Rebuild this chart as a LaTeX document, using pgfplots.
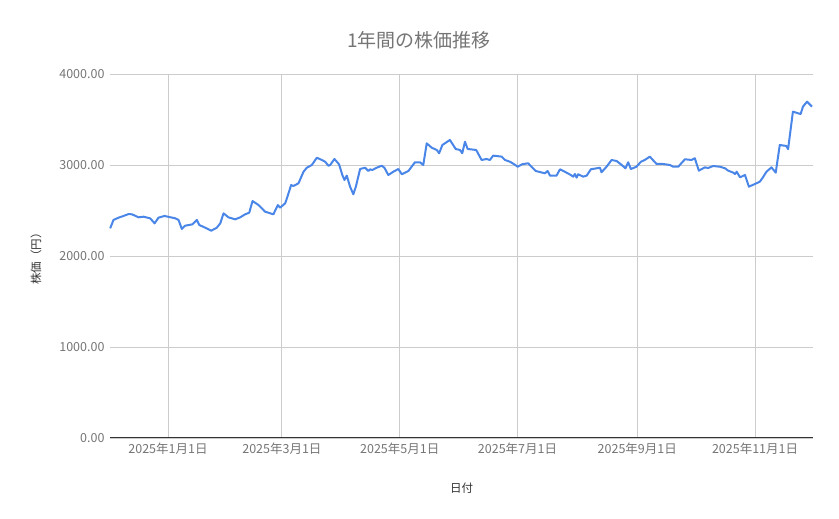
\documentclass[border=0pt]{standalone}
\usepackage{pgfplots}
\pgfplotsset{compat=1.18}
\usepackage{fontspec}
\setmainfont{Noto Sans CJK JP}
\definecolor{linebl}{HTML}{4A86E8}
\definecolor{txtgray}{HTML}{757575}
\definecolor{gridgray}{HTML}{CCCCCC}
\begin{document}
\begin{tikzpicture}[x=1pt,y=1pt]
\useasboundingbox (-110,-81) rectangle (729,438);
\begin{axis}[
  at={(0,0)}, anchor=south west,
  scale only axis, width=703pt, height=364pt,
  xmin=-30, xmax=334, ymin=0, ymax=4000,
  xtick={0,59,120,181,243,304},
  xticklabels={2025年1月1日,2025年3月1日,2025年5月1日,2025年7月1日,2025年9月1日,2025年11月1日},
  ytick={0,1000,2000,3000,4000},
  yticklabels={0.00,1000.00,2000.00,3000.00,4000.00},
  xmajorgrids, ymajorgrids,
  major grid style={gridgray, line width=0.8pt},
  axis line style={draw=none},
  major tick length=0pt,
  tick label style={font=\fontsize{12.5}{14}\selectfont, text=txtgray},
  xticklabel style={yshift=-1pt},
  yticklabel style={xshift=-2pt},
  xlabel={日付}, ylabel={株価（円）},
  label style={font=\fontsize{11.5}{13}\selectfont, text=black!80},
  xlabel style={yshift=-22pt},
  ylabel style={yshift=11pt},
  clip=false,
]
\addplot[linebl, line width=2pt, line join=round] coordinates {
(-29.9,2304)(-28.2,2396)(-25.6,2421)(-23.0,2440)(-20.4,2461)(-18.6,2458)(-15.2,2425)(-12.6,2432)(-9.2,2414)(-6.9,2359)(-4.9,2421)(-1.8,2440)(3.8,2414)(5.5,2396)(7.2,2297)(8.9,2333)(12.7,2348)(15.0,2396)(16.2,2341)(19.3,2311)(22.4,2278)(25.3,2311)(27.1,2359)(28.8,2469)(31.3,2425)(34.8,2403)(37.4,2425)(40.0,2458)(42.1,2476)(43.8,2604)(46.9,2560)(50.3,2487)(54.6,2458)(56.9,2560)(58.1,2531)(60.7,2579)(61.6,2634)(63.8,2780)(65.0,2769)(67.6,2799)(70.2,2926)(71.9,2970)(74.5,3000)(77.1,3080)(79.7,3055)(81.4,3036)(83.1,2992)(84.0,3000)(86.2,3066)(88.6,3008)(90.3,2890)(91.4,2835)(92.6,2883)(94.3,2762)(96.0,2678)(97.3,2762)(99.5,2956)(102.1,2970)(103.8,2934)(104.7,2953)(105.8,2945)(108.1,2970)(110.7,2992)(112.1,2970)(114.1,2890)(116.7,2926)(119.3,2956)(121.1,2898)(124.5,2934)(127.9,3030)(130.5,3030)(132.2,3000)(134.0,3238)(136.6,3190)(139.2,3165)(140.4,3129)(142.1,3220)(146.0,3275)(149.0,3176)(151.2,3165)(152.4,3129)(153.8,3256)(155.2,3176)(159.6,3165)(162.4,3055)(165.0,3066)(166.7,3055)(168.4,3103)(172.8,3092)(174.5,3055)(177.1,3036)(179.3,3008)(181.1,2981)(183.4,3008)(186.5,3019)(190.4,2934)(195.2,2909)(196.6,2934)(197.8,2883)(201.2,2883)(203.0,2953)(205.5,2926)(208.6,2890)(209.8,2872)(210.7,2901)(211.6,2861)(212.4,2898)(215.0,2872)(216.8,2883)(219.0,2953)(223.7,2970)(224.5,2920)(227.1,2981)(229.7,3055)(232.3,3044)(234.5,3008)(236.9,2964)(238.3,3030)(239.7,2956)(242.6,2981)(244.9,3036)(246.9,3055)(249.5,3092)(253.0,3011)(256.4,3011)(259.9,3000)(261.6,2981)(264.2,2981)(267.7,3063)(271.1,3055)(272.8,3074)(274.9,2938)(278.0,2974)(279.7,2967)(282.3,2989)(285.8,2981)(288.4,2964)(290.1,2938)(292.7,2916)(293.6,2901)(294.5,2926)(296.2,2865)(298.8,2890)(300.8,2762)(303.9,2791)(306.5,2817)(308.1,2865)(309.9,2926)(312.5,2974)(314.7,2916)(316.8,3220)(320.2,3209)(321.1,3173)(323.6,3586)(327.6,3560)(328.8,3641)(330.9,3696)(333.5,3641)
};
\draw[black!80, line width=1pt] (axis cs:-30,0) -- (axis cs:334,0);
\end{axis}
\node[text=txtgray, font=\fontsize{19}{22}\selectfont] at (309,398) {1年間の株価推移};
\end{tikzpicture}
\end{document}
